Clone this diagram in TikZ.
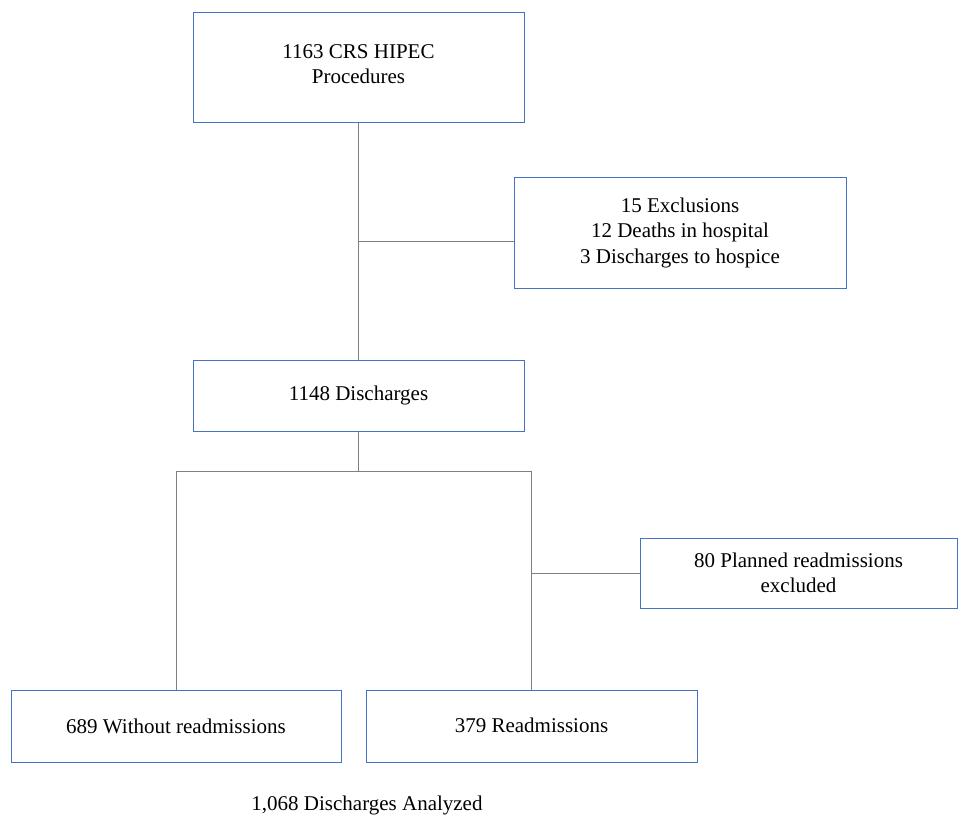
\documentclass[tikz,border=0pt]{standalone}
\usepackage{fontspec}
\setmainfont{Liberation Serif}
\begin{document}
\begin{tikzpicture}[x=1pt,y=-1pt,
  box/.style={draw=boxblue, line width=1pt, rectangle, align=center, inner sep=0pt,
    font=\fontsize{21}{25.5}\selectfont},
  conn/.style={draw=linegray, line width=1pt}]
\definecolor{boxblue}{HTML}{4472C4}
\definecolor{linegray}{HTML}{808080}
\useasboundingbox (0,0) rectangle (958,815);
\node[box, minimum width=331pt, minimum height=110pt] (top) at (358.5,67) {};
\node[font=\fontsize{21}{25.5}\selectfont, align=center, inner sep=0pt] (toptext) at (358.5,64) {1163 CRS HIPEC\\Procedures};
\node[box, minimum width=332pt, minimum height=111pt] (excl) at (680,232.5) {15 Exclusions\\12 Deaths in hospital\\3 Discharges to hospice};
\node[box, minimum width=331pt, minimum height=71pt] (dis) at (358.5,395.5) {\raisebox{-2pt}{1148 Discharges}};
\node[box, minimum width=317pt, minimum height=70pt] (plan) at (798.5,573) {80 Planned readmissions\\excluded};
\node[box, minimum width=330pt, minimum height=72pt] (without) at (176,726) {\raisebox{-2pt}{689 Without readmissions}};
\node[box, minimum width=331pt, minimum height=72pt] (readm) at (531.5,726) {\raisebox{1pt}{379 Readmissions}};
\node[font=\fontsize{21}{25.5}\selectfont, inner sep=0pt] (analyzed) at (367,805) {1,068 Discharges Analyzed};
\coordinate (j1) at (358.5,241);
\coordinate (j2) at (358.5,471);
\coordinate (jl) at (176,471);
\coordinate (jr) at (531,471);
\coordinate (j3) at (531,573);
\draw[conn] (top.south) -- (dis.north);
\draw[conn] (j1) -- (j1 -| excl.west);
\draw[conn] (dis.south) -- (j2);
\draw[conn] (jl) -- (jr);
\draw[conn] (jl) -- (without.north);
\draw[conn] (jr) -- (jr |- readm.north);
\draw[conn] (j3) -- (plan.west);
\end{tikzpicture}
\end{document}
